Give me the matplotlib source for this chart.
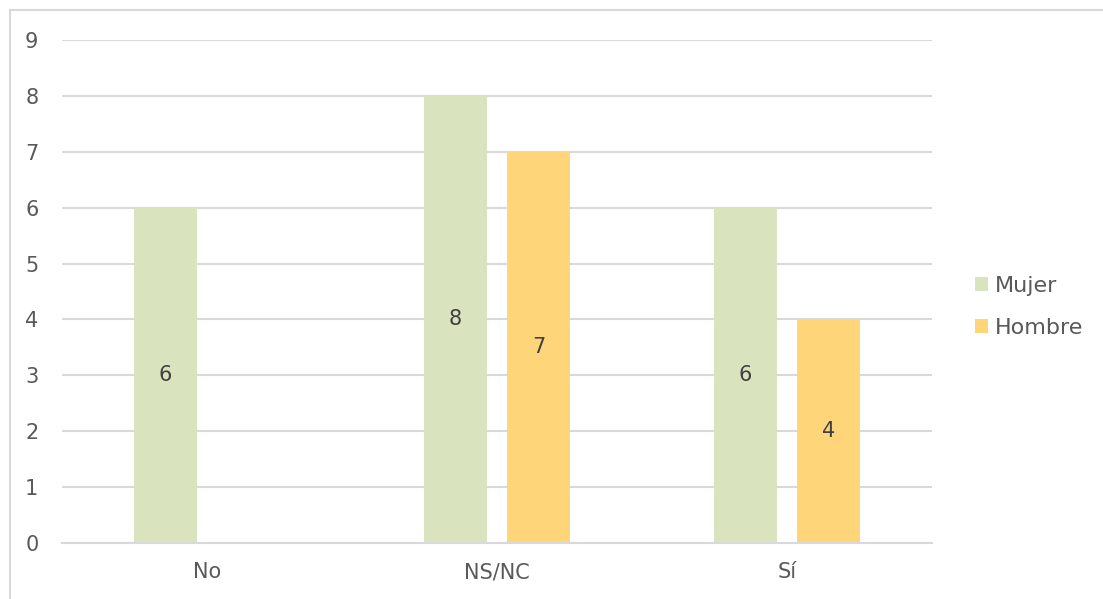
import numpy as np
import matplotlib.pyplot as plt
from matplotlib.patches import Rectangle

plt.rcParams['font.family'] = ['DejaVu Sans']

categorias = ['No', 'NS/NC', 'Sí']
mujer = [6, 8, 6]
hombre = [0, 7, 4]
series = ['Mujer', 'Hombre']
colores = ['#d9e4bf', '#ffd57a']

fig = plt.figure(figsize=(11.03, 5.99), dpi=100)
# marco del gráfico
fig.patches.append(Rectangle((10 / 1103, -0.1), 1.2, (599 - 10) / 599 + 0.1,
                             transform=fig.transFigure, fill=False,
                             edgecolor='#d9d9d9', linewidth=1.5))

ax = fig.add_axes([62 / 1103, 56 / 599, (932 - 62) / 1103, (543 - 40) / 599])

x = np.arange(len(categorias))
ancho = 0.22
desp = 0.143

for i, (vals, nombre, color) in enumerate(zip([mujer, hombre], series, colores)):
    pos = x + (-desp if i == 0 else desp)
    barras = ax.bar(pos, vals, ancho, color=color, label=nombre, zorder=2)
    for b, v in zip(barras, vals):
        if v > 0:
            ax.text(b.get_x() + b.get_width() / 2, v / 2, str(v),
                    ha='center', va='center', fontsize=15, color='#404040', zorder=3)

ax.set_xlim(-0.5, len(categorias) - 0.5)
ax.set_ylim(0, 9)
ax.set_yticks(range(0, 10))
ax.set_xticks(x)
ax.set_xticklabels(categorias)
ax.grid(axis='y', color='#d9d9d9', linewidth=1.5, zorder=0)
ax.set_axisbelow(True)
for lado in ['top', 'right', 'left']:
    ax.spines[lado].set_visible(False)
ax.spines['bottom'].set_color('#d9d9d9')
ax.spines['bottom'].set_linewidth(1.5)
ax.tick_params(axis='both', length=0, labelsize=15, labelcolor='#595959')
ax.tick_params(axis='y', pad=17)
ax.tick_params(axis='x', pad=14)

ax.legend(loc='center left', bbox_to_anchor=(1.049, 0.469), frameon=False,
          fontsize=16, handlelength=0.6, handleheight=0.6, handletextpad=0.3,
          labelspacing=1.0, borderpad=0, borderaxespad=0, labelcolor='#595959')

fig.savefig('out.png', dpi=100)
